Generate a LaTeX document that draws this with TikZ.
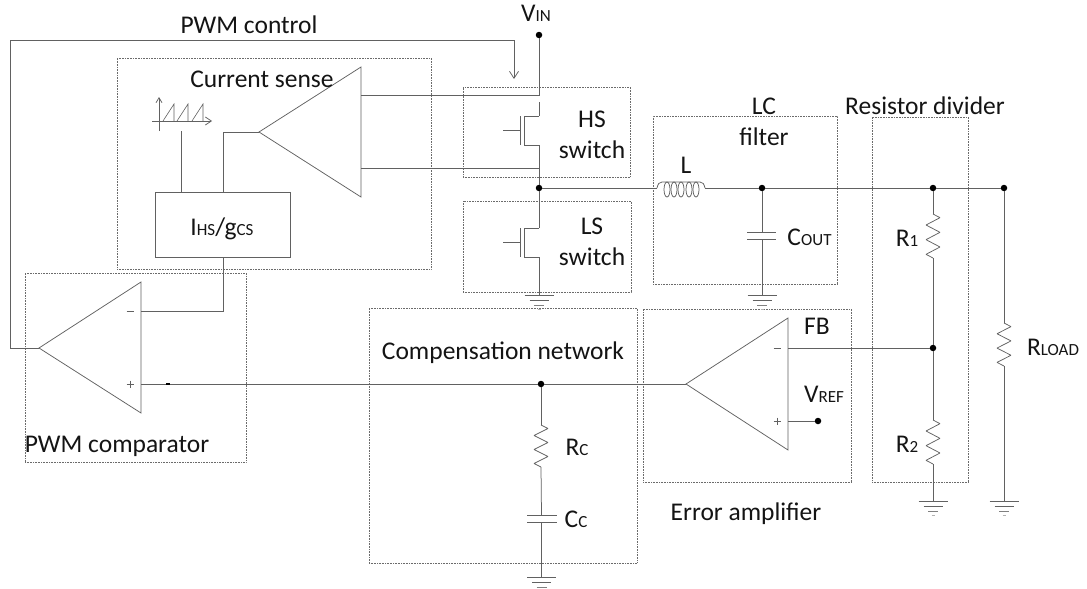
\documentclass[tikz,border=0pt]{standalone}
\usepackage{fontspec}
\setmainfont{Carlito}
\usetikzlibrary{arrows.meta}
\newcommand{\sm}[1]{{\fontsize{17}{17}\selectfont #1}}
\tikzset{
  x=1pt,y=-1pt,
  wire/.style={draw=black!62,line width=0.75pt,line join=miter},
  grp/.style={draw=black!58,line width=0.6pt,densely dotted,line cap=butt,inner sep=0pt,outer sep=0pt},
  dot/.style={circle,fill=black,draw=none,minimum size=6.5pt,inner sep=0pt},
  lab/.style={anchor=base,inner sep=0pt,text=black!92,font=\fontsize{25.5}{25.5}\selectfont},
  ibox/.style={draw=black!62,line width=0.75pt,inner sep=0pt,outer sep=0pt},
}
\newcommand{\grpbox}[5]{\node[grp,minimum width=#4-#2,minimum height=#5-#3] (#1) at ({(#2+#4)/2},{(#3+#5)/2}) {};}
% resistor: name, x, ytop, ybot
\newcommand{\res}[4]{%
  \coordinate (#1t) at (#2,#3); \coordinate (#1b) at (#2,#4);
  \pgfmathsetmacro{\st}{(#4-#3)/6}
  \draw[wire,line join=bevel] (#1t) -- ++(7,{\st*0.5}) -- ++(-14,\st) -- ++(14,\st) -- ++(-14,\st) -- ++(14,\st) -- ++(-14,\st) -- (#1b);}
% ground: name, x, y
\newcommand{\gnd}[3]{%
  \coordinate (#1) at (#2,#3);
  \draw[wire] (#2-14.5,#3) -- (#2+14.5,#3);
  \draw[wire] (#2-9.5,#3+5) -- (#2+9.5,#3+5);
  \draw[wire,black!50] (#2-5,#3+10) -- (#2+5,#3+10);
  \draw[wire,black!30] (#2-1.5,#3+14) -- (#2+1.5,#3+14);}
% amp: name, tipx, tipy, rightx, top, bottom
\newcommand{\amp}[6]{%
  \coordinate (#1tip) at (#2,#3);
  \coordinate (#1top) at (#4,#5);
  \coordinate (#1bot) at (#4,#6);
  \draw[wire] (#1tip) -- (#1top) -- (#1bot) -- cycle;}
% mosfet: name, ytop
\newcommand{\fet}[2]{%
  \coordinate (#1d) at (539,#2); \coordinate (#1s) at (539,#2+29);
  \coordinate (#1g) at (503,#2+14.5);
  \draw[wire] (#1d) -- (524,#2) -- (524,#2+29) -- (#1s);
  \draw[wire] (520,#2) -- (520,#2+29);
  \draw[wire] (#1g) -- (520,#2+14.5);}
\begin{document}
\begin{tikzpicture}
\useasboundingbox (0,0) rectangle (1087,589);
% region boxes
\grpbox{csbox}{117}{58}{431}{269}
\grpbox{pwmbox}{25}{273}{246}{462}
\grpbox{hsbox}{463}{87}{630.5}{177}
\grpbox{lsbox}{463}{201}{631}{292}
\grpbox{lcbox}{653}{116}{837}{284}
\grpbox{rdbox}{872}{117}{968}{482}
\grpbox{cnbox}{369}{308}{637}{563}
\grpbox{eabox}{643}{309}{851}{482}
% junctions
\node[dot] (vin) at (539,35) {};
\node[dot] (sw) at (539,188) {};
\node[dot] (lcn) at (762,188) {};
\node[dot] (rtop) at (933,188) {};
\node[dot] (vout) at (1004,188) {};
\node[dot] (fbn) at (933,348) {};
\node[dot] (cmp) at (541,384) {};
\node[dot] (vref) at (818,421) {};
% amplifiers
\amp{ca}{259}{132}{361}{67}{197}
\amp{pa}{39}{348}{141}{282}{413}
\amp{ea}{686}{384}{788}{318}{450}
% current sense block
\node[ibox,minimum width=135pt,minimum height=65pt] (ihs) at (222.5,224.5) {};
\coordinate (ihsa) at (181,192); \coordinate (ihsb) at (223,192); \coordinate (ihsc) at (223,257);
\draw[wire] (ihsa) -- (181,131);
\draw[wire] (ihsb) -- (223,132) -- (catip);
\draw[wire] (ihsc) -- (223,311) -- (141,311);
% sawtooth
\draw[wire,-{Straight Barb[length=5pt,width=6pt]}] (159,131) -- (159,97);
\draw[wire,-{Straight Barb[length=6pt,width=8pt]}] (152,121) -- (212,121);
\draw[wire,line width=0.6pt] (163,121) -- (174,104) -- (174,121) (177,121) -- (188,104) -- (188,121) (192,121) -- (203,104) -- (203,121);
% FETs
\fet{hs}{116}
\fet{ls}{228}
\draw[wire] (vin) -- (539,95) -- (361,95);
\draw[wire] (539,102) -- (hsd);
\draw[wire] (hss) -- (sw);
\draw[wire] (361,168) -- (539,168);
\draw[wire] (sw) -- (lsd);
\gnd{g1}{539}{295}
\draw[wire] (lss) -- (g1);
% PWM control loop
\coordinate (pwmarrow) at (514,79);
\draw[wire,-{Straight Barb[length=7pt,width=9pt]}] (patip) -- (10,348) -- (10,40) -- (514,40) -- (pwmarrow);
% output rail and inductor
\coordinate (la) at (657,188); \coordinate (lb) at (705,188);
\draw[wire] (sw) -- (la);
\draw[wire] (lb) -- (lcn) -- (rtop) -- (vout);
\draw[wire] (la) .. controls (658,184) and (659,182) .. (662,182) -- (700,182) .. controls (703,182) and (704,184) .. (lb);
\foreach \cx in {667,674,681,689,696} \draw[wire] (\cx,189.5) ellipse [x radius=3,y radius=7.5];
% Cout
\gnd{g2}{762}{295}
\draw[wire] (lcn) -- (762,232);
\draw[wire] (762,239) -- (g2);
\draw[wire] (747,232) -- (776,232);
\draw[wire] (747,239) -- (776,239);
% divider
\res{ra}{933}{214}{258}
\res{rb}{933}{420}{464}
\gnd{g3}{933}{501}
\draw[wire] (rtop) -- (rat);
\draw[wire] (rab) -- (fbn) -- (rbt);
\draw[wire] (rbb) -- (g3);
% load
\res{rl}{1004}{323}{366}
\gnd{g4}{1004}{501}
\draw[wire] (vout) -- (rlt);
\draw[wire] (rlb) -- (g4);
% error amplifier connections
\draw[wire] (788,348) -- (fbn);
\draw[wire] (788,421) -- (vref);
\draw[wire] (eatip) -- (cmp) -- (141,384);
\draw[wire,black,line width=1.1pt] (166,384) -- (170,384);
% signs
\draw[wire,line width=0.5pt] (126.5,311) -- (133.5,311);
\draw[wire,line width=0.5pt] (126.5,384) -- (133.5,384) (130,380.5) -- (130,387.5);
\draw[wire,line width=0.5pt] (773.5,348) -- (780.5,348);
\draw[wire,line width=0.5pt] (773.5,421) -- (780.5,421) (777,417.5) -- (777,424.5);
% compensation
\res{rc}{541}{425}{467}
\gnd{g5}{541.5}{577}
\draw[wire] (cmp) -- (rct);
\draw[wire] (rcb) -- (541.5,515);
\draw[wire] (541.5,522) -- (g5);
\draw[wire] (527,515) -- (557,515);
\draw[wire] (527,522) -- (557,522);
% labels
\node[lab] (t1) at (249,33) {PWM control};
\node[lab] (t2) at (536,21) {V\sm{IN}};
\node[lab] (t3) at (262,87) {Current sense};
\node[lab] (t4) at (222,235) {I\sm{HS}/g\sm{CS}};
\node[lab] (t5) at (592,127) {HS};
\node[lab] (t6) at (592,158) {switch};
\node[lab] (t7) at (592,234) {LS};
\node[lab] (t8) at (592,265) {switch};
\node[lab] (t9) at (764,114) {LC};
\node[lab] (t10) at (764,145) {filter};
\node[lab] (t11) at (686,173) {L};
\node[lab] (t12) at (809.5,245) {C\sm{OUT}};
\node[lab] (t13) at (925,114) {Resistor divider};
\node[lab] (t14) at (907,246) {R\sm{1}};
\node[lab] (t15) at (907,452) {R\sm{2}};
\node[lab] (t16) at (1053,355) {R\sm{LOAD}};
\node[lab] (t17) at (817,334) {FB};
\node[lab] (t18) at (824,402) {V\sm{REF}};
\node[lab] (t19) at (503,359) {Compensation network};
\node[lab] (t20) at (746,520) {Error amplifier};
\node[lab] (t21) at (577,455) {R\sm{C}};
\node[lab] (t22) at (576,527) {C\sm{C}};
\node[lab] (t23) at (117,452) {PWM comparator};
\end{tikzpicture}
\end{document}
